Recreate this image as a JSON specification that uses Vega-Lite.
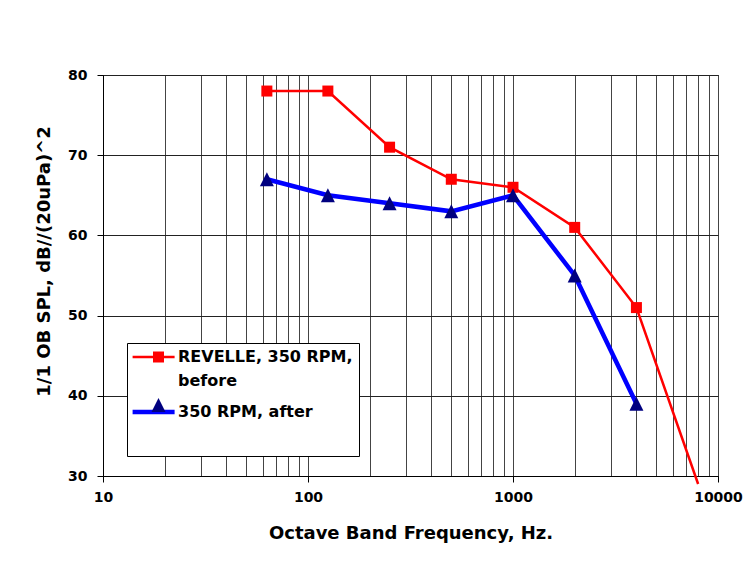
{
  "$schema": "https://vega.github.io/schema/vega-lite/v6.json",
  "width": 615,
  "height": 401,
  "autosize": "none",
  "padding": {"left": 103, "top": 75, "right": 33, "bottom": 97},
  "background": "white",
  "config": {
    "font": "DejaVu Sans",
    "view": {"stroke": "black", "strokeWidth": 1}
  },
  "data": {
    "values": [
      {"series": "REVELLE, 350 RPM, before", "freq": 63, "spl": 78},
      {"series": "REVELLE, 350 RPM, before", "freq": 125, "spl": 78},
      {"series": "REVELLE, 350 RPM, before", "freq": 250, "spl": 71},
      {"series": "REVELLE, 350 RPM, before", "freq": 500, "spl": 67},
      {"series": "REVELLE, 350 RPM, before", "freq": 1000, "spl": 66},
      {"series": "REVELLE, 350 RPM, before", "freq": 2000, "spl": 61},
      {"series": "REVELLE, 350 RPM, before", "freq": 4000, "spl": 51},
      {"series": "REVELLE, 350 RPM, before", "freq": 8000, "spl": 29},
      {"series": "350 RPM, after", "freq": 63, "spl": 67},
      {"series": "350 RPM, after", "freq": 125, "spl": 65},
      {"series": "350 RPM, after", "freq": 250, "spl": 64},
      {"series": "350 RPM, after", "freq": 500, "spl": 63},
      {"series": "350 RPM, after", "freq": 1000, "spl": 65},
      {"series": "350 RPM, after", "freq": 2000, "spl": 55},
      {"series": "350 RPM, after", "freq": 4000, "spl": 39}
    ]
  },
  "encoding": {
    "x": {
      "field": "freq",
      "type": "quantitative",
      "scale": {"type": "log", "domain": [10, 10000]},
      "axis": {
        "values": [10, 20, 30, 40, 50, 60, 70, 80, 90, 100, 200, 300, 400, 500, 600, 700, 800, 900, 1000, 2000, 3000, 4000, 5000, 6000, 7000, 8000, 9000, 10000],
        "format": "d",
        "labelExpr": "indexof([10, 100, 1000, 10000], datum.value) >= 0 ? datum.label : ''",
        "grid": true,
        "gridColor": "#444444",
        "gridWidth": 1,
        "tickColor": "black",
        "tickSize": 6,
        "tickOpacity": {"condition": {"test": "indexof([10, 100, 1000, 10000], datum.value) >= 0", "value": 1}, "value": 0},
        "domainColor": "black",
        "labelFontSize": 14,
        "labelFontWeight": "bold",
        "labelColor": "black",
        "labelPadding": 8,
        "labelOverlap": false,
        "labelFlush": false,
        "title": "Octave Band Frequency, Hz.",
        "titleFontSize": 18,
        "titleFontWeight": "bold",
        "titleColor": "black",
        "titlePadding": 20
      }
    },
    "y": {
      "field": "spl",
      "type": "quantitative",
      "scale": {"domain": [30, 80]},
      "axis": {
        "values": [30, 40, 50, 60, 70, 80],
        "grid": true,
        "gridColor": "#222222",
        "gridWidth": 1,
        "tickColor": "black",
        "tickSize": 6,
        "domainColor": "black",
        "labelFontSize": 14,
        "labelFontWeight": "bold",
        "labelColor": "black",
        "labelPadding": 10,
        "title": "1/1 OB SPL, dB//(20uPa)^2",
        "titleFontSize": 18,
        "titleFontWeight": "bold",
        "titleColor": "black",
        "titleX": -53.5,
        "titleY": 186,
        "titleAngle": -90,
        "titleAlign": "center",
        "titleBaseline": "alphabetic"
      }
    }
  },
  "layer": [
    {
      "mark": {"type": "line", "clip": false},
      "encoding": {
        "stroke": {
          "field": "series",
          "type": "nominal",
          "sort": "descending",
          "scale": {"range": ["#FF0000", "#0000FF"]},
          "legend": {
            "orient": "none",
            "legendX": 24,
            "legendY": 268,
            "zindex": 0,
            "title": " ",
            "titleOrient": "bottom",
            "titleFontSize": 16,
            "titlePadding": 13,
            "fillColor": "white",
            "strokeColor": "black",
            "padding": 6,
            "cornerRadius": 0,
            "labelFont": "DejaVu Sans",
            "labelFontWeight": "bold",
            "labelFontSize": 16,
            "labelColor": "black",
            "labelLimit": 400,
            "labelOffset": 29,
            "labelExpr": "datum.label === 'REVELLE, 350 RPM, before' ? ['REVELLE, 350 RPM,', 'before'] : datum.label",
            "symbolType": "M-0.8,0H3.2",
            "symbolSize": 441,
            "symbolFillColor": "transparent",
            "rowPadding": 14,
            "encode": {
              "labels": {"update": {"lineHeight": {"value": 24}}},
              "symbols": {"update": {"strokeWidth": {"signal": "datum.value === 'REVELLE, 350 RPM, before' ? 2.5 : 4.5"}}}
            }
          }
        },
        "strokeWidth": {
          "condition": {"test": "datum.series === 'REVELLE, 350 RPM, before'", "value": 2.5},
          "value": 4.5
        }
      }
    },
    {
      "transform": [{"filter": "datum.freq <= 4000"}],
      "mark": {"type": "point", "filled": true, "opacity": 1, "size": 121, "strokeWidth": 0},
      "encoding": {
        "shape": {
          "field": "series",
          "type": "nominal",
          "scale": {"domain": ["REVELLE, 350 RPM, before", "350 RPM, after"], "range": ["square", "M0,-1.27L1.27,1.27L-1.27,1.27Z"]},
          "legend": {
            "orient": "none",
            "legendX": 24,
            "legendY": 268,
            "zindex": 1,
            "title": null,
            "fillColor": "transparent",
            "strokeColor": "transparent",
            "padding": 6,
            "labelFont": "DejaVu Sans",
            "labelFontWeight": "bold",
            "labelFontSize": 16,
            "labelOpacity": 0,
            "labelLimit": 400,
            "labelOffset": 25,
            "labelExpr": "datum.label === 'REVELLE, 350 RPM, before' ? [' ', ' '] : ' '",
            "symbolSize": 121,
            "symbolOffset": 17.5,
            "symbolStrokeWidth": 0,
            "rowPadding": 14,
            "encode": {
              "labels": {"update": {"lineHeight": {"value": 24}}}
            }
          }
        },
        "fill": {
          "field": "series",
          "type": "nominal",
          "scale": {"domain": ["REVELLE, 350 RPM, before", "350 RPM, after"], "range": ["#FF0000", "#000080"]}
        }
      }
    }
  ]
}
